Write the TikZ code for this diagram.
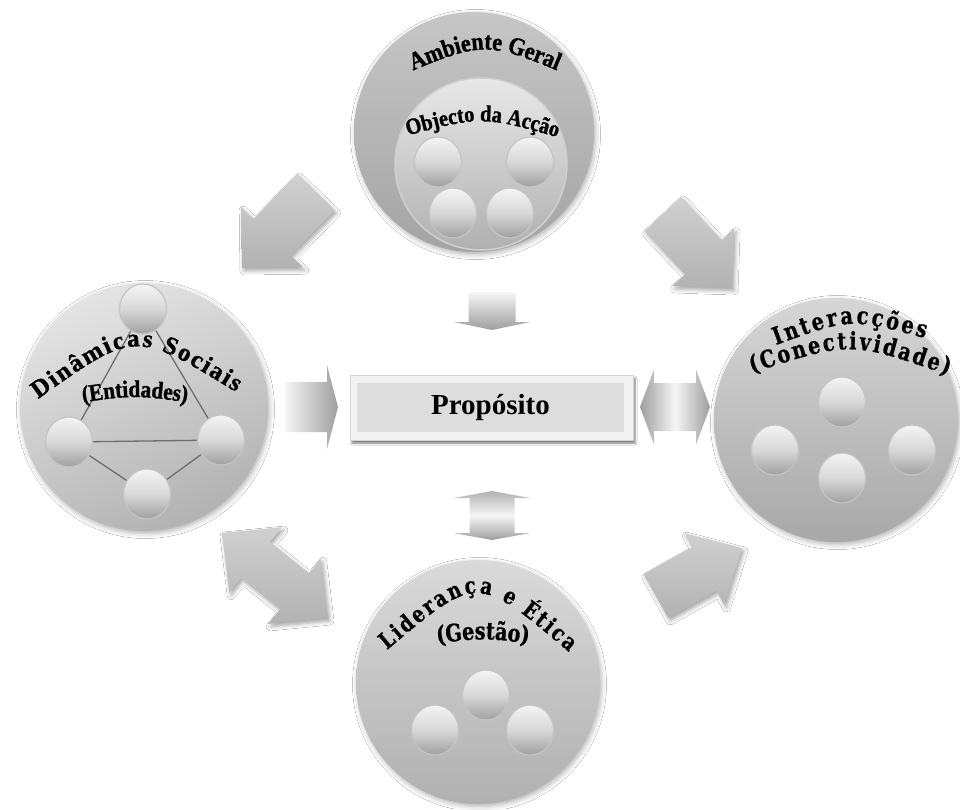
\documentclass[tikz,border=0pt]{standalone}
\usepackage{fontspec}
\setmainfont{Liberation Serif}
\newfontfamily\archserif[FakeStretch=0.88,FakeBold=1.2]{Liberation Serif Bold}
\newfontfamily\archwide[FakeBold=1.2]{Liberation Serif Bold}
\newfontfamily\archslab[FakeStretch=0.8,FakeBold=0.8]{DejaVu Serif Bold}
\usetikzlibrary{calc,shapes.geometric,decorations.text,shadows.blur}

\definecolor{ambtop}{HTML}{C6C6C6}
\definecolor{ambbot}{HTML}{A4A4A4}
\definecolor{objtop}{HTML}{E8E8E8}
\definecolor{objbot}{HTML}{B0B0B0}
\definecolor{objrim}{HTML}{CFCFCF}
\definecolor{dyntop}{HTML}{E4E4E4}
\definecolor{dynbot}{HTML}{B2B2B2}
\definecolor{inttop}{HTML}{D6D6D6}
\definecolor{intbot}{HTML}{A8A8A8}
\definecolor{lidtop}{HTML}{DADADA}
\definecolor{lidbot}{HTML}{B0B0B0}
\definecolor{knobtop}{HTML}{F4F4F4}
\definecolor{knobmid}{HTML}{D8D8D8}
\definecolor{knobbot}{HTML}{A0A0A0}
\definecolor{knobrim}{HTML}{C4C4C4}
\definecolor{linkgray}{HTML}{6E6E6E}
\definecolor{boxframe}{HTML}{F2F2F2}
\definecolor{boxedge}{HTML}{D4D4D4}
\definecolor{boxfill}{HTML}{DDDDDD}
\definecolor{arrlight}{HTML}{D0D0D0}
\definecolor{arrdark}{HTML}{B2B2B2}
\definecolor{flatlight}{HTML}{F6F6F6}
\definecolor{flatdark}{HTML}{9E9E9E}

\tikzset{
  disc/.style={circle, inner sep=0pt, draw=none,
    blur shadow={shadow xshift=1.5pt, shadow yshift=-2.5pt,
      shadow blur radius=5pt, shadow opacity=30}},
  knob/.style={ellipse, inner sep=0pt, minimum width=47pt, minimum height=50pt,
    draw=knobrim, line width=1.2pt,
    top color=knobtop, bottom color=knobbot, middle color=knobmid},
  link/.style={draw=linkgray, line width=1.3pt},
  slant arrow/.style={top color=arrlight, bottom color=arrdark,
    blur shadow={shadow xshift=2pt, shadow yshift=-3pt,
      shadow blur radius=4pt, shadow opacity=35}},
  arch/.style={decorate, decoration={text along path, text align=center, text={#1}}},
  archfit/.style={decorate, decoration={text along path, text align=fit to path, text={#1}}}
}

% block arrow: style, tail, tip, shaft half width, head half width, head length
\newcommand\onewayarrow[6]{%
  \coordinate (hb) at ($(#3)!#6!(#2)$);
  \path[#1] ($(#2)!#4!90:(#3)$) -- ($(hb)!#4!90:(#3)$) -- ($(hb)!#5!90:(#3)$) -- (#3)
    -- ($(hb)!#5!-90:(#3)$) -- ($(hb)!#4!-90:(#3)$) -- ($(#2)!#4!-90:(#3)$) -- cycle;}

% double block arrow: style, first tip, second tip, shaft half width, head half width, head length
\newcommand\twowayarrow[6]{%
  \coordinate (hba) at ($(#2)!#6!(#3)$);
  \coordinate (hbb) at ($(#3)!#6!(#2)$);
  \path[#1] (#2) -- ($(hba)!#5!90:(#3)$) -- ($(hba)!#4!90:(#3)$)
    -- ($(hbb)!#4!-90:(#2)$) -- ($(hbb)!#5!-90:(#2)$) -- (#3)
    -- ($(hbb)!#5!90:(#2)$) -- ($(hbb)!#4!90:(#2)$)
    -- ($(hba)!#4!-90:(#3)$) -- ($(hba)!#5!-90:(#3)$) -- cycle;}

\begin{document}
\begin{tikzpicture}[x=1pt,y=-1pt]
\useasboundingbox (0,0) rectangle (960,809);
\fill[white] (0,0) rectangle (960,809);

% ---------- the four big discs ----------
\node[disc, minimum size=240pt, top color=ambtop, bottom color=ambbot] (amb) at (474,132) {};
\node[disc, minimum size=248pt, top color=dyntop, bottom color=dynbot, shading angle=25] (dyn) at (144,407) {};
\node[disc, minimum size=244pt, top color=inttop, bottom color=intbot] (int) at (836,420) {};
\node[disc, minimum size=244pt, top color=lidtop, bottom color=lidbot] (lid) at (478,682) {};
\node[circle, inner sep=0pt, minimum size=172pt, draw=objrim, line width=1.5pt,
      top color=objtop, bottom color=objbot] (obj) at (481,164) {};

% ---------- small discs ----------
\node[knob] (o1) at (438,162) {};
\node[knob] (o2) at (530,162) {};
\node[knob] (o3) at (453,213) {};
\node[knob] (o4) at (510,213) {};

% social network: links first, discs on top
\coordinate (dc1) at (143,309);
\coordinate (dc2) at (69,442);
\coordinate (dc3) at (221,440);
\coordinate (dc4) at (147,494);
\draw[link] (dc1) -- (dc2);
\draw[link] (dc1) -- (dc3);
\draw[link] (dc2) -- (dc3);
\draw[link] (dc2) -- (dc4);
\draw[link] (dc4) -- (dc3);
\node[knob] (d1) at (dc1) {};
\node[knob] (d2) at (dc2) {};
\node[knob] (d3) at (dc3) {};
\node[knob] (d4) at (dc4) {};

\node[knob] (i1) at (842,402) {};
\node[knob] (i2) at (775,450) {};
\node[knob] (i3) at (912,450) {};
\node[knob] (i4) at (842,478) {};

\node[knob] (l1) at (486,695) {};
\node[knob] (l2) at (435,730) {};
\node[knob] (l3) at (530,730) {};

% ---------- arched titles ----------
\path[arch={|\archserif\fontsize{25}{25}\selectfont|Ambiente Geral}]
  (395,78) .. controls (485,40) .. (575,78);
\path[arch={|\archserif\fontsize{23}{23}\selectfont|Objecto da Acção}]
  (395,139) .. controls (482,115) .. (570,141);

\path[archfit={|\archwide\fontsize{25}{25}\selectfont|Dinâmicas Sociais}]
  (38,399) .. controls (135,330) .. (236,392);
\path[arch={|\archserif\fontsize{24}{24}\selectfont|(Entidades)}]
  (60,406) .. controls (135,394) .. (210,406);

\path[archfit={|\archslab\fontsize{24}{24}\selectfont|Interacções}]
  (776,345) .. controls (850,318) .. (925,338);
\path[archfit={|\archslab\fontsize{24}{24}\selectfont|(Conectividade)}]
  (752,373) .. controls (850,341) .. (948,375);

\path[archfit={|\archslab\fontsize{23}{23}\selectfont|Liderança e Ética}]
  (387,650) .. controls (477,574) .. (569,652);
\path[arch={|\archslab\fontsize{24}{24}\selectfont|(Gestão)}]
  (420,646) .. controls (483,637) .. (546,646);

% ---------- central box ----------
\path[fill=boxframe, draw=boxedge, line width=0.6pt,
      blur shadow={shadow xshift=2pt, shadow yshift=-3pt, shadow blur radius=2pt, shadow opacity=55}]
  (350,375) rectangle (633,440);
\node[fill=boxfill, inner sep=0pt, minimum width=267pt, minimum height=49pt,
      font=\bfseries\fontsize{29}{29}\selectfont] (prop) at (490.5,407.5) {Propósito};

% ---------- slanted block arrows ----------
\coordinate (tlTail) at (316,192); \coordinate (tlTip) at (242,268);
\onewayarrow{slant arrow}{tlTail}{tlTip}{26pt}{43pt}{43pt}
\coordinate (trTail) at (663,214); \coordinate (trTip) at (732,288);
\onewayarrow{slant arrow}{trTail}{trTip}{25pt}{42pt}{42pt}
\coordinate (blTipA) at (222,533); \coordinate (blTipB) at (328,618);
\twowayarrow{slant arrow}{blTipA}{blTipB}{23pt}{42pt}{43pt}
\coordinate (brTail) at (656,596); \coordinate (brTip) at (742,548);
\onewayarrow{slant arrow}{brTail}{brTip}{25pt}{41pt}{43pt}

% ---------- straight block arrows around the box ----------
\coordinate (inTail) at (285,407); \coordinate (inTip) at (338,407);
\onewayarrow{left color=flatlight, right color=flatdark}{inTail}{inTip}{25pt}{42pt}{11pt}
\coordinate (lrTipA) at (640,407); \coordinate (lrTipB) at (710,407);
\twowayarrow{left color=flatdark, right color=flatdark, middle color=flatlight}{lrTipA}{lrTipB}{24pt}{37.5pt}{14pt}
\coordinate (dnTail) at (492,292); \coordinate (dnTip) at (492,330);
\onewayarrow{top color=flatlight, bottom color=flatdark}{dnTail}{dnTip}{23.5pt}{38.5pt}{8pt}
\coordinate (udTipA) at (492,491); \coordinate (udTipB) at (492,540);
\twowayarrow{top color=flatdark!80!white, bottom color=flatdark, middle color=flatlight}{udTipA}{udTipB}{22.5pt}{38.5pt}{7pt}

\end{tikzpicture}
\end{document}
